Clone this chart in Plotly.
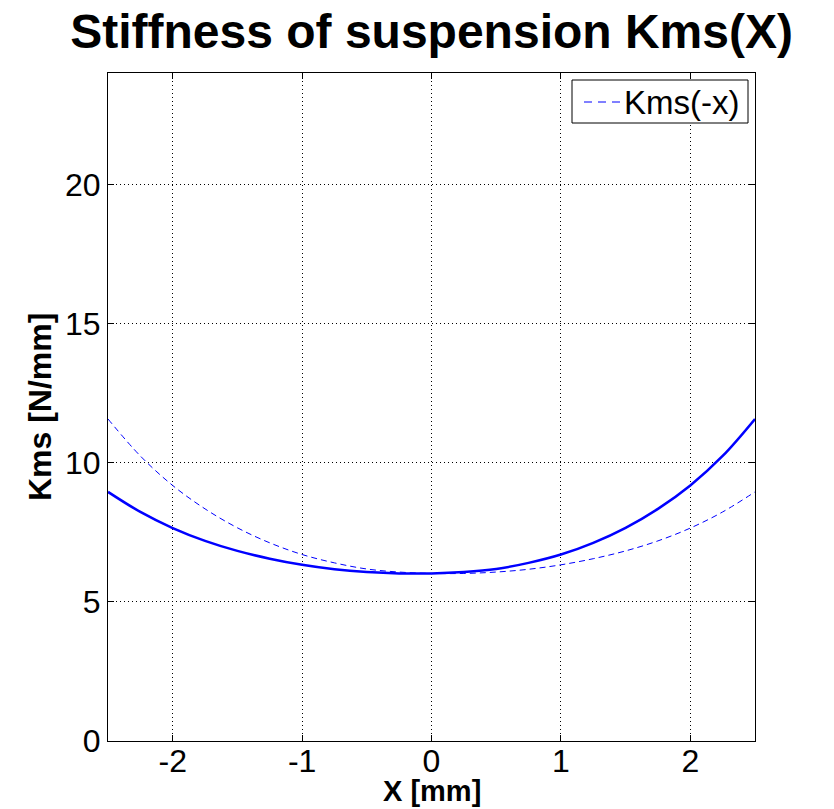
import plotly.graph_objects as go

# Data
x_mm = [-2.5, -2.25, -2.0, -1.75, -1.5, -1.25, -1.0, -0.75, -0.5, -0.25, 0.0,
        0.25, 0.5, 0.75, 1.0, 1.25, 1.5, 1.75, 2.0, 2.25, 2.5]
kms_x = [8.95, 8.23, 7.65, 7.19, 6.83, 6.55, 6.33, 6.17, 6.07, 6.02, 6.02,
         6.07, 6.18, 6.40, 6.70, 7.12, 7.66, 8.34, 9.18, 10.24, 11.57]
# Kms(-x): mirror of the same curve
kms_minus_x = list(reversed(kms_x))

x_ticks = [-2, -1, 0, 1, 2]
y_ticks = [0, 5, 10, 15, 20]
legend_label = "Kms(-x)"

FONT = "Liberation Sans, Arial, sans-serif"

# plot-area geometry (px) used for converting legend box placement
L, R, T, B = 108, 755, 73, 741
def px_x(p):
    return (p - L) / (R - L)
def px_y(p):
    return (B - p) / (B - T)

fig = go.Figure()
fig.add_trace(go.Scatter(x=x_mm, y=kms_x, mode="lines", showlegend=False,
                         line=dict(color="#0000FF", width=2.5, shape="spline")))
fig.add_trace(go.Scatter(x=x_mm, y=kms_minus_x, mode="lines", name=legend_label,
                         showlegend=False,
                         line=dict(color="#0000FF", width=1, dash="6px,4px", shape="spline")))

axis_common = dict(showline=True, linecolor="black", linewidth=1, mirror="ticks",
                   ticks="inside", ticklen=6, tickcolor="black",
                   showgrid=True, gridcolor="black", gridwidth=1, griddash="1px,3px",
                   zeroline=False, tickfont=dict(family=FONT, size=32, color="black"))

fig.update_xaxes(range=[-2.5, 2.5], tickvals=x_ticks, ticktext=[str(v) for v in x_ticks],
                 ticklabelstandoff=-8, **axis_common)
fig.update_yaxes(range=[0, 24], tickvals=y_ticks, ticktext=[str(v) for v in y_ticks], **axis_common)

shapes = [
    # legend box
    dict(type="rect", xref="paper", yref="paper",
         x0=px_x(572), x1=px_x(748), y0=px_y(123), y1=px_y(80),
         line=dict(color="black", width=1), fillcolor="white", layer="above"),
    # legend line sample
    dict(type="line", xref="paper", yref="paper",
         x0=px_x(584), x1=px_x(621), y0=px_y(102), y1=px_y(102),
         line=dict(color="#0000FF", width=1, dash="8px,6px"), layer="above"),
]

fig.update_layout(
    width=834, height=809,
    margin=dict(l=L, r=834 - R, t=T, b=809 - B),
    paper_bgcolor="white", plot_bgcolor="white",
    showlegend=False,
    shapes=shapes,
    title=dict(text="<b>Stiffness of suspension Kms(X)</b>", x=0.5175, xanchor="center",
               y=0.962, yanchor="middle", yref="container",
               font=dict(family=FONT, size=48, color="black")),
    annotations=[
        dict(text=legend_label, xref="paper", yref="paper", x=px_x(622), y=px_y(103),
             xanchor="left", yanchor="middle", showarrow=False,
             font=dict(family=FONT, size=33, color="black")),
        dict(text="<b>X [mm]</b>", xref="paper", yref="paper", x=0.5, y=px_y(791),
             xanchor="center", yanchor="middle", showarrow=False,
             font=dict(family=FONT, size=29, color="black")),
        dict(text="<b>Kms [N/mm]</b>", xref="paper", yref="paper", x=-0.105, y=0.5,
             xanchor="center", yanchor="middle", showarrow=False, textangle=-90,
             font=dict(family=FONT, size=32, color="black")),
    ],
)

fig.write_html("out.html")
